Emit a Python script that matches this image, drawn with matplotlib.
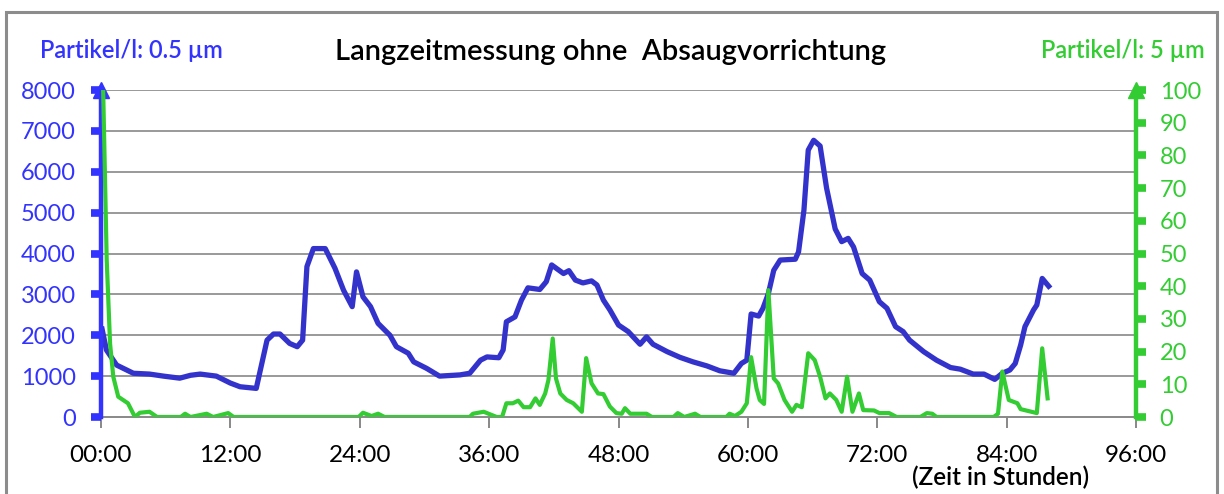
import matplotlib
matplotlib.use("Agg")
import matplotlib.pyplot as plt
from matplotlib.patches import Rectangle

plt.rcParams['font.family'] = ['Lato', 'DejaVu Sans']

# --- data (hours, particles per litre) ------------------------------------
t_small = [0.1, 0.5, 1.45, 3.0, 4.5, 5.8, 7.3, 8.3, 9.2, 10.7, 12.0, 12.9, 14.4,
           15.4, 16.0, 16.6, 17.5, 18.2, 18.7, 19.1, 19.7, 20.8, 21.7, 22.5, 23.3,
           23.7, 24.3, 25.0, 25.7, 26.8, 27.4, 28.5, 29.0, 30.2, 31.4, 33.3, 34.2,
           35.2, 35.8, 36.9, 37.3, 37.6, 38.4, 39.0, 39.6, 40.7, 41.3, 41.8, 42.9,
           43.4, 44.0, 44.7, 45.5, 46.0, 46.6, 47.2, 48.0, 48.9, 50.0, 50.6, 51.2,
           52.5, 53.7, 54.9, 56.2, 57.4, 58.7, 59.4, 59.9, 60.3, 61.0, 61.4, 61.9,
           62.4, 63.0, 64.4, 64.7, 65.2, 65.6, 66.1, 66.7, 67.3, 68.1, 68.7, 69.3,
           69.8, 70.6, 71.3, 72.2, 72.9, 73.7, 74.4, 75.0, 76.3, 77.5, 78.8, 79.7,
           80.9, 81.9, 82.9, 83.6, 84.3, 84.8, 85.3, 85.7, 86.5, 86.8, 87.3, 87.9]
v_small = [2150, 1640, 1270, 1070, 1050, 1000, 950, 1020, 1050, 1000, 830, 740, 700,
           1880, 2030, 2030, 1800, 1720, 1880, 3680, 4120, 4120, 3640, 3100, 2700,
           3550, 2940, 2700, 2290, 2000, 1720, 1560, 1350, 1190, 1000, 1030, 1070,
           1390, 1470, 1450, 1640, 2330, 2450, 2860, 3160, 3120, 3310, 3720, 3510,
           3580, 3350, 3280, 3330, 3230, 2860, 2620, 2250, 2090, 1780, 1960, 1780,
           1600, 1460, 1350, 1250, 1130, 1070, 1310, 1390, 2520, 2470, 2660, 3020,
           3590, 3840, 3860, 4040, 5060, 6530, 6770, 6630, 5600, 4600, 4290, 4370,
           4160, 3510, 3350, 2820, 2660, 2210, 2090, 1880, 1600, 1390, 1210, 1170,
           1050, 1050, 920, 1070, 1150, 1310, 1760, 2210, 2620, 2740, 3390, 3200]

t_large = [0.2, 0.53, 0.84, 1.14, 1.6, 2.5, 3.15, 3.6, 4.5, 5.2, 7.4, 7.8, 8.3,
           9.8, 10.4, 11.8, 12.3, 23.9, 24.3, 25.1, 25.7, 26.3, 34.2, 34.5, 35.5,
           36.1, 36.7, 37.2, 37.6, 38.2, 38.7, 39.2, 39.8, 40.3, 40.7, 41.2, 41.5,
           41.9, 42.2, 42.6, 43.2, 43.8, 44.6, 45.0, 45.5, 46.1, 46.6, 47.2, 47.8,
           48.3, 48.6, 49.1, 50.6, 51.1, 53.1, 53.5, 54.1, 55.1, 55.6, 58.0, 58.3,
           58.8, 59.4, 59.9, 60.3, 60.8, 61.1, 61.5, 61.9, 62.4, 62.8, 63.4, 64.1,
           64.5, 65.0, 65.6, 66.2, 66.7, 67.2, 67.6, 68.2, 68.7, 69.2, 69.7, 70.3,
           70.7, 71.7, 72.2, 73.1, 73.8, 76.0, 76.6, 77.1, 77.5, 82.8, 83.2, 83.6,
           84.2, 85.0, 85.3, 86.8, 87.3, 87.8]
v_large = [100, 48, 22.5, 12.3, 6.2, 4.2, 0, 1.3, 1.6, 0, 0, 1, 0,
           1, 0, 1.2, 0, 0, 1.3, 0.3, 1, 0, 0, 1, 1.6,
           0.8, 0, 0, 4.2, 4.2, 5, 3, 3, 5.7, 3.7, 7.2, 11.3,
           24, 11.8, 7.2, 5.2, 4.2, 1.6, 18, 10.3, 7.2, 7, 3.2, 1.2,
           1, 2.7, 1, 1, 0, 0, 1.2, 0, 1, 0, 0, 1,
           0.3, 1.6, 4.2, 18.3, 8.8, 5.2, 4, 38.8, 11.8, 10.3, 5.2, 1.6,
           3.7, 3, 19.5, 17.4, 12.3, 5.7, 7.2, 5.2, 1.6, 12.3, 1.6, 7.2,
           2.1, 2, 1.2, 1.2, 0, 0, 1.2, 1, 0, 0, 1, 13.9,
           5.2, 4.2, 2.4, 1.2, 21, 5.7]

x_ticks = [0, 12, 24, 36, 48, 60, 72, 84, 96]
x_labels = ["00:00", "12:00", "24:00", "36:00", "48:00", "60:00", "72:00", "84:00", "96:00"]

blue_line = "#3333cc"
blue_axis = "#3333ff"
green = "#33cc33"
grid_c = "#888888"

fig = plt.figure(figsize=(12.24, 4.94), dpi=100)
fig.patches.append(Rectangle((6 / 1224, -0.05), 1211 / 1224, 1 - 12 / 494 + 0.05,
                             transform=fig.transFigure, fill=False,
                             edgecolor="#8c8c8c", linewidth=2.2))

ax = fig.add_axes([101 / 1224, 77 / 494, 1035 / 1224, 327 / 494])
ax2 = ax.twinx()

ax.set_xlim(0, 96)
ax.set_ylim(0, 8000)
ax2.set_ylim(0, 100)

ax.set_yticks(range(0, 8001, 1000))
ax2.set_yticks(range(0, 101, 10))
ax.set_xticks(x_ticks)
ax.set_xticklabels(x_labels)

for y in range(1000, 8001, 1000):
  ax.axhline(y, color=grid_c, lw=1.2, zorder=1)

ax.plot(t_small, v_small, color=blue_line, lw=3.8, zorder=3, solid_joinstyle="round")
ax2.plot(t_large, v_large, color=green, lw=3.0, zorder=3, solid_joinstyle="round")

# spines
for a in (ax, ax2):
  a.spines["top"].set_visible(False)
ax.spines["right"].set_visible(False)
ax2.spines["left"].set_visible(False)
ax2.spines["bottom"].set_visible(False)
ax.spines["bottom"].set_color(grid_c)
ax.spines["bottom"].set_linewidth(1.4)
ax.spines["left"].set_color(blue_axis)
ax.spines["left"].set_linewidth(3.2)
ax.spines["left"].set_zorder(5)
ax2.spines["right"].set_color(green)
ax2.spines["right"].set_linewidth(3.2)

ax.tick_params(axis="x", colors=grid_c, length=8, width=1.4, labelcolor="black",
               labelsize=17.5, pad=12)
ax.tick_params(axis="y", colors=blue_axis, length=7, width=5.5, labelcolor=blue_axis,
               labelsize=17, pad=11)
ax2.tick_params(axis="y", colors=green, length=7, width=5.5, labelcolor=green,
                labelsize=17, pad=10)

# arrows at the top of both value axes
ax.plot([0], [1.0], marker="^", ms=11, color=blue_axis, transform=ax.transAxes,
        clip_on=False, zorder=6)
ax2.plot([1], [1.0], marker="^", ms=11, color=green, transform=ax2.transAxes,
         clip_on=False, zorder=6)

fig.text(611 / 1224, 1 - 52 / 494, "Langzeitmessung ohne  Absaugvorrichtung",
         ha="center", va="center", fontsize=21, fontweight="semibold")
fig.text(40 / 1224, 1 - 51 / 494, "Partikel/l: 0.5 µm", ha="left", va="center",
         fontsize=17, color=blue_axis, fontweight="semibold")
fig.text(1205 / 1224, 1 - 51 / 494, "Partikel/l: 5 µm", ha="right", va="center",
         fontsize=17, color=green, fontweight="semibold")
fig.text(1001 / 1224, 1 - 477 / 494, "(Zeit in Stunden)", ha="center", va="center",
         fontsize=17.5, fontweight="semibold")

fig.savefig("out.png", dpi=100)
